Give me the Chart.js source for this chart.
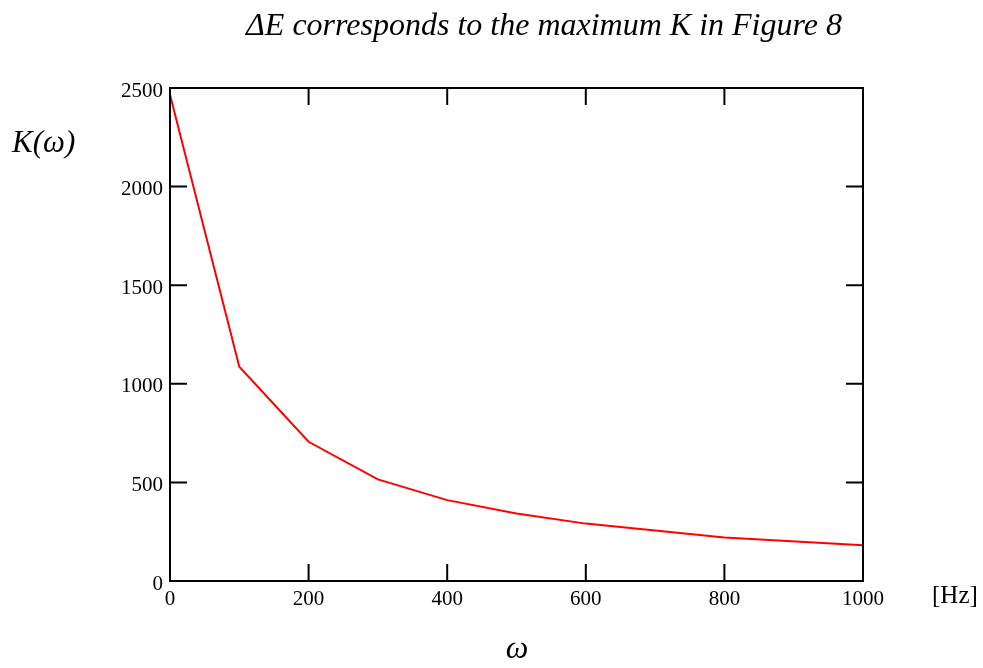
<!DOCTYPE html>
<html>
<head>
<meta charset="utf-8">
<script src="https://cdn.jsdelivr.net/npm/chart.js@4/dist/chart.umd.min.js"></script>
<style>
  html, body { margin: 0; padding: 0; background: #fff; }
  #wrap { width: 983px; height: 668px; position: relative; }
</style>
</head>
<body>
<div id="wrap"><canvas id="kChart" width="983" height="668"></canvas></div>
<script>
// K(omega) values
const omega = [0, 100, 200, 300, 400, 500, 600, 800, 1000];
const kValues = [2466, 1087, 706, 515, 410, 342, 291, 220, 181];
const xTicks = [0, 200, 400, 600, 800, 1000];
const yTicks = [0, 500, 1000, 1500, 2000, 2500];

const serif = "'Liberation Serif', 'Times New Roman', serif";

// frame, inward ticks and the loose labels
const framePlugin = {
  id: 'frame',
  afterDraw(chart) {
    const c = chart.ctx;
    const a = chart.chartArea;
    const xs = chart.scales.x;
    const ys = chart.scales.y;
    const tl = 17;
    c.save();
    c.strokeStyle = '#000';
    c.lineWidth = 2;
    c.strokeRect(a.left, a.top, a.right - a.left, a.bottom - a.top);
    c.beginPath();
    xTicks.forEach(v => {
      const px = xs.getPixelForValue(v);
      c.moveTo(px, a.bottom); c.lineTo(px, a.bottom - tl);
      c.moveTo(px, a.top); c.lineTo(px, a.top + tl);
    });
    yTicks.forEach(v => {
      const py = ys.getPixelForValue(v);
      c.moveTo(a.left, py); c.lineTo(a.left + tl, py);
      c.moveTo(a.right, py); c.lineTo(a.right - tl, py);
    });
    c.stroke();

    c.fillStyle = '#000';
    c.textBaseline = 'middle';
    c.textAlign = 'center';
    c.font = 'italic 32px ' + serif;
    c.fillText('\u0394E corresponds to the maximum K in Figure 8', 544, 27);
    c.textAlign = 'left';
    c.font = 'italic 31px ' + serif;
    c.fillText('K(\u03c9)', 12, 144);
    c.textAlign = 'center';
    c.font = 'italic 32px ' + serif;
    c.fillText('\u03c9', 517, 650);
    c.font = '25px ' + serif;
    c.textAlign = 'left';
    c.fillText('[Hz]', 932, 596);
    c.restore();
  }
};

new Chart(document.getElementById('kChart'), {
  type: 'scatter',
  data: {
    datasets: [{
      data: omega.map((w, i) => ({ x: w, y: kValues[i] })),
      showLine: true,
      borderColor: '#ff0000',
      borderWidth: 2,
      pointRadius: 0,
      tension: 0
    }]
  },
  options: {
    responsive: false,
    animation: false,
    layout: { padding: { left: 0, top: 88, right: 120, bottom: 57 } },
    plugins: { legend: { display: false }, tooltip: { enabled: false } },
    scales: {
      x: {
        type: 'linear',
        min: 0, max: 1000,
        afterBuildTicks: s => { s.ticks = xTicks.map(v => ({ value: v })); },
        afterFit: s => { s.height = 30; },
        grid: { display: false, drawTicks: false },
        border: { display: false },
        ticks: { color: '#000', padding: 6, maxRotation: 0, callback: v => String(v), font: { family: serif, size: 21 } }
      },
      y: {
        type: 'linear',
        min: 0, max: 2500,
        afterBuildTicks: s => { s.ticks = yTicks.map(v => ({ value: v })); },
        afterFit: s => { s.width = 170; },
        grid: { display: false, drawTicks: false },
        border: { display: false },
        ticks: { color: '#000', padding: 7, labelOffset: 3, callback: v => String(v), font: { family: serif, size: 21 } }
      }
    }
  },
  plugins: [framePlugin]
});
</script>
</body>
</html>
